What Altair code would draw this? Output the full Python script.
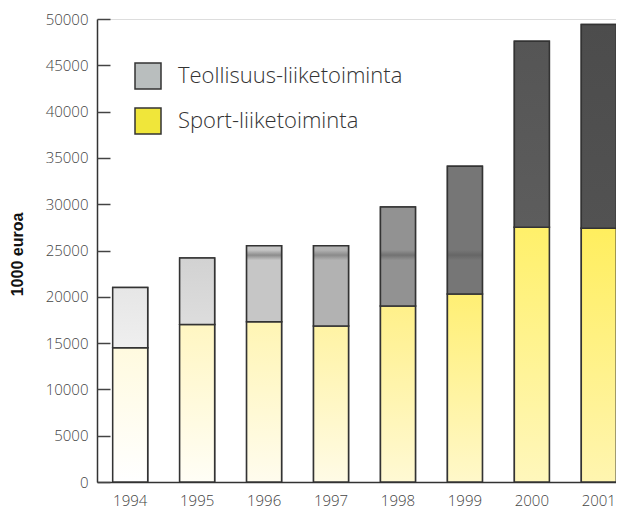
import altair as alt
import pandas as pd

# ---- data ----
years = ["1994", "1995", "1996", "1997", "1998", "1999", "2000", "2001"]
sport = [14500, 17000, 17300, 16850, 19000, 20300, 27500, 27400]
teollisuus = [6500, 7200, 8200, 8650, 10700, 13800, 20100, 22000]
series_names = ["Teollisuus-liiketoiminta", "Sport-liiketoiminta"]
y_ticks = [0, 5000, 10000, 15000, 20000, 25000, 30000, 35000, 40000, 45000, 50000]

# ---- styles ----
legend_colors = ["#b9bebe", "#f0e63a"]
gray_fill = ["#efefef", "#dddddd", "#c6c6c6", "#b2b2b2", "#929292", "#767676", "#5d5d5d", "#525252"]
gray_band = ["#e6e6e6", "#d2d2d2", "#8c8c8c", "#8a8a8a", "#727272", "#666666", "#555555", "#4c4c4c"]
yellow_bottom = ["#ffffff", "#fffef6", "#fffcee", "#fffbe6", "#fff9d4", "#fff8ca", "#fff7bc", "#fff5b0"]
yellow_top = ["#fffadf", "#fff6c2", "#fff5b4", "#fff3a4", "#fff08a", "#ffef74", "#fff06a", "#ffee5e"]
band_value = 24500
band_half = 550

rows = []
for i, y in enumerate(years):
    rows.append({"year": y, "series": series_names[1], "start": 0, "end": sport[i], "i": i})
    rows.append({"year": y, "series": series_names[0], "start": sport[i],
                 "end": sport[i] + teollisuus[i], "i": i})
df = pd.DataFrame(rows)

W = 519
FONT = "Open Sans"
x_scale = alt.Scale(range=[0, 535], paddingInner=0.482, paddingOuter=0.237)
y_scale = alt.Scale(domain=[0, 50000], nice=False)
x_axis = alt.Axis(title=None, labelAngle=0, ticks=False, labelPadding=11,
                  labelFont=FONT, labelFontSize=15, labelFontWeight=300, labelColor="#444",
                  domainColor="#333", domainWidth=1.5, grid=False)
y_axis = alt.Axis(title="1000 euroa", values=y_ticks, format="d", ticks=False, labelPadding=9,
                  labelFont=FONT, labelFontSize=15, labelFontWeight=300, labelColor="#444",
                  domainColor="#333", domainWidth=1.5, grid=False,
                  titleFont="Liberation Sans", titleFontSize=16, titleFontWeight="bold",
                  titleColor="#111", titleAngle=270, titleX=-80, titleY=235,
                  titleAlign="center", titleBaseline="middle")

enc = dict(
    x=alt.X("year:N", scale=x_scale, axis=x_axis),
    y=alt.Y("start:Q", scale=y_scale, axis=y_axis),
    y2="end:Q",
)

base = alt.Chart(df).mark_bar(size=35, stroke="#333", strokeWidth=1.5).encode(
    color=alt.Color("series:N",
                    scale=alt.Scale(domain=series_names, range=legend_colors),
                    legend=alt.Legend(orient="none", legendX=37, legendY=43, title=None,
                                      symbolType="square", symbolSize=676,
                                      symbolStrokeColor="#333", symbolStrokeWidth=1.5,
                                      symbolOpacity=1,
                                      labelFont=FONT, labelFontSize=22, labelFontWeight=300,
                                      labelColor="#333", labelOffset=16, rowPadding=13,
                                      labelLimit=400)),
    **enc,
)

layers = [base]
for r in rows:
    i = r["i"]
    if r["series"] == series_names[1]:
        stops = [alt.GradientStop(offset=0, color=yellow_bottom[i]),
                 alt.GradientStop(offset=1, color=yellow_top[i])]
    else:
        lo, hi = r["start"], r["end"]
        if lo < band_value < hi:
            off = (band_value - lo) / (hi - lo)
            d = band_half / (hi - lo)
            stops = [alt.GradientStop(offset=0, color=gray_fill[i]),
                     alt.GradientStop(offset=max(0.0, off - d), color=gray_fill[i]),
                     alt.GradientStop(offset=off, color=gray_band[i]),
                     alt.GradientStop(offset=min(1.0, off + d), color=gray_fill[i]),
                     alt.GradientStop(offset=1, color=gray_fill[i])]
        else:
            stops = [alt.GradientStop(offset=0, color=gray_fill[i]),
                     alt.GradientStop(offset=1, color=gray_band[i])]
    grad = alt.Gradient(gradient="linear", stops=stops, x1=0, x2=0, y1=1, y2=0)
    layer = alt.Chart(df).transform_filter(
        (alt.datum.year == r["year"]) & (alt.datum.series == r["series"])
    ).mark_bar(size=35, fill=grad, stroke="#333", strokeWidth=1.5).encode(**enc)
    layers.append(layer)

bars = alt.layer(*layers)

# inward-pointing ticks: a second axis on the same domain, moved onto the left edge
ticks_df = pd.DataFrame({"v": y_ticks})
tick_layer = alt.Chart(ticks_df).mark_point(opacity=0, size=1).encode(
    y=alt.Y("v:Q", scale=alt.Scale(domain=[0, 50000], nice=False),
            axis=alt.Axis(orient="right", offset=-W, values=y_ticks, labels=False,
                          domain=False, ticks=True, tickSize=13, tickWidth=1.5,
                          tickColor="#444", grid=False, title=None)),
)

chart = alt.layer(bars, tick_layer).resolve_scale(y="independent").properties(
    width=W, height=463,
    autosize=alt.AutoSizeParams(type="none"),
    padding={"left": 89, "top": 11, "right": 0, "bottom": 28},
).configure_view(stroke=None).configure(background="white")

chart.save("out.html", embed_options={"renderer": "svg", "actions": False})
